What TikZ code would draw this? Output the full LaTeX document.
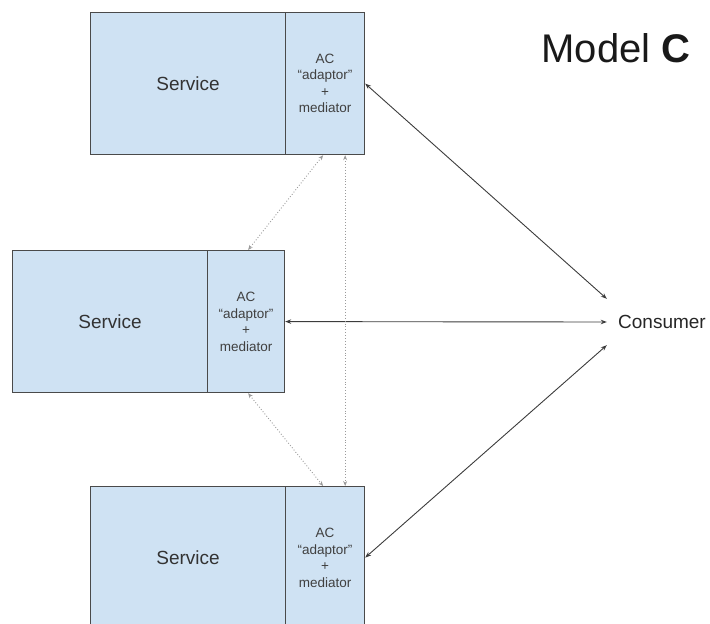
\documentclass[tikz,border=0pt]{standalone}
\usepackage{fontspec}
\setmainfont{Liberation Sans}
\usetikzlibrary{arrows.meta,calc}
\definecolor{boxfill}{HTML}{CFE2F3}
\definecolor{boxline}{HTML}{4A4A4A}
\definecolor{solidarrow}{HTML}{3C3C3C}
\definecolor{dotarrow}{HTML}{9A9A9A}
\begin{document}
\begin{tikzpicture}[x=1pt,y=-1pt,
  svc/.style={draw=boxline,line width=1.2pt,fill=boxfill,anchor=north west,inner sep=0,
    minimum width=195pt,minimum height=142pt,font=\fontsize{19}{23}\selectfont,text=black!80},
  acbox/.style={draw=boxline,line width=1.2pt,fill=boxfill,anchor=north west,inner sep=0,
    minimum width=79pt,minimum height=142pt,align=center,font=\fontsize{13.5}{16.5}\selectfont,text=black!75},
  link/.style={draw=solidarrow,line width=0.9pt,{Stealth[length=6pt,width=4.5pt]}-{Stealth[length=6pt,width=4.5pt]}},
  dlink/.style={draw=dotarrow,line width=0.9pt,dotted,{Stealth[length=5pt,width=4pt]}-{Stealth[length=5pt,width=4pt]}}
]
\useasboundingbox (0,0) rectangle (710,624);
\clip (0,0) rectangle (710,624);
% top
\node[svc] (s1) at (90,12) {Service};
\node[acbox] (ac1) at (285,12) {AC\\``adaptor''\\+\\mediator};
% middle
\node[svc,minimum width=195pt] (s2) at (12,250) {Service};
\node[acbox,minimum width=77pt] (ac2) at (207,250) {AC\\``adaptor''\\+\\mediator};
% bottom
\node[svc] (s3) at (90,486) {Service};
\node[acbox] (ac3) at (285,486) {AC\\``adaptor''\\+\\mediator};
% consumer
\node[inner sep=0,minimum width=110pt,minimum height=46pt,font=\fontsize{19}{23}\selectfont,text=black!85] (cons) at (662,322) {Consumer};
% title
\node[font=\fontsize{40}{46}\selectfont,text=black!90] (title) at (616,48) {Model \textbf{C}};
% solid links
\draw[link] (ac1.east) -- (cons.north west);
\draw[link] (ac2.east) -- (cons.west);
\draw[link] (ac3.east) -- (cons.south west);
% dotted links
\draw[dlink] ([xshift=-2pt]ac1.south) -- ([xshift=2pt]ac2.north);
\draw[dlink] ([xshift=2pt]ac2.south) -- ([xshift=-2pt]ac3.north);
\draw[dlink] ($(ac1.south west)!0.75!(ac1.south east)$) -- ($(ac3.north west)!0.75!(ac3.north east)$);
\end{tikzpicture}
\end{document}
